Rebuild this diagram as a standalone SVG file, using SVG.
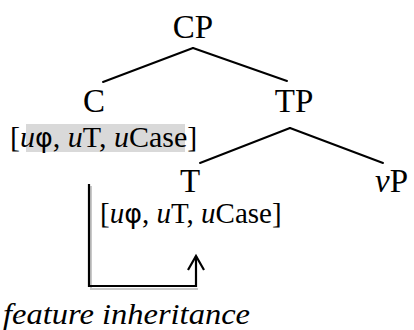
<svg xmlns="http://www.w3.org/2000/svg" width="414" height="330" viewBox="0 0 414 330">
  <style>
    .lbl { font-family: "Liberation Serif", "Times New Roman", serif; font-size: 33px; fill: #000; }
    .feat { font-family: "Liberation Serif", "Times New Roman", serif; font-size: 30px; fill: #000; }
    .feat2 { font-size: 29px; }
    .it { font-style: italic; }
    .phi { font-family: "DejaVu Sans", "Liberation Sans", sans-serif; font-style: normal; font-size: 27px; }
    .edge { stroke: #000; stroke-width: 2; fill: none; stroke-linecap: round; }
    .path { stroke: #000; stroke-width: 2.2; fill: none; }
    .shadow { stroke: #c8c8c8; stroke-width: 2; fill: none; }
    .note { font-family: "Liberation Serif", "Times New Roman", serif; font-size: 29px; font-style: italic; fill: #000; }
  </style>

  <!-- tree branches -->
  <g id="connectors">
    <line class="edge" x1="193" y1="48" x2="103" y2="82"/>
    <line class="edge" x1="193" y1="48" x2="287" y2="81"/>
    <line class="edge" x1="290" y1="128" x2="200" y2="163"/>
    <line class="edge" x1="290" y1="128" x2="383" y2="163"/>
    <!-- inheritance path from C down and over to T -->
    <polyline class="shadow" points="91,186 91,289 198,289"/>
    <polyline class="path" points="89,184 89,286 196,286 196,256"/>
    <polyline class="path" points="188,270 196,256 204,270"/>
  </g>

  <g id="node-CP">
    <text class="lbl" x="193" y="38" text-anchor="middle">CP</text>
  </g>

  <g id="node-C">
    <text class="lbl" x="94" y="112" text-anchor="middle">C</text>
    <rect x="26" y="124" width="159" height="28" fill="#d9d9d9"/>
    <text class="feat" x="10" y="147">[<tspan class="it">u</tspan><tspan class="phi">φ</tspan>, <tspan class="it">u</tspan>T, <tspan class="it">u</tspan>Case]</text>
  </g>

  <g id="node-TP">
    <text class="lbl" x="294" y="112" text-anchor="middle">TP</text>
  </g>

  <g id="node-T">
    <text class="lbl" x="190" y="192" text-anchor="middle">T</text>
    <text class="feat feat2" x="100" y="223">[<tspan class="it">u</tspan><tspan class="phi">φ</tspan>, <tspan class="it">u</tspan>T, <tspan class="it">u</tspan>Case]</text>
  </g>

  <g id="node-vP">
    <text class="lbl" x="375" y="192"><tspan class="it">v</tspan>P</text>
  </g>

  <g id="label-inheritance">
    <text class="note" x="3" y="324" textLength="247" lengthAdjust="spacingAndGlyphs">feature inheritance</text>
  </g>
</svg>
